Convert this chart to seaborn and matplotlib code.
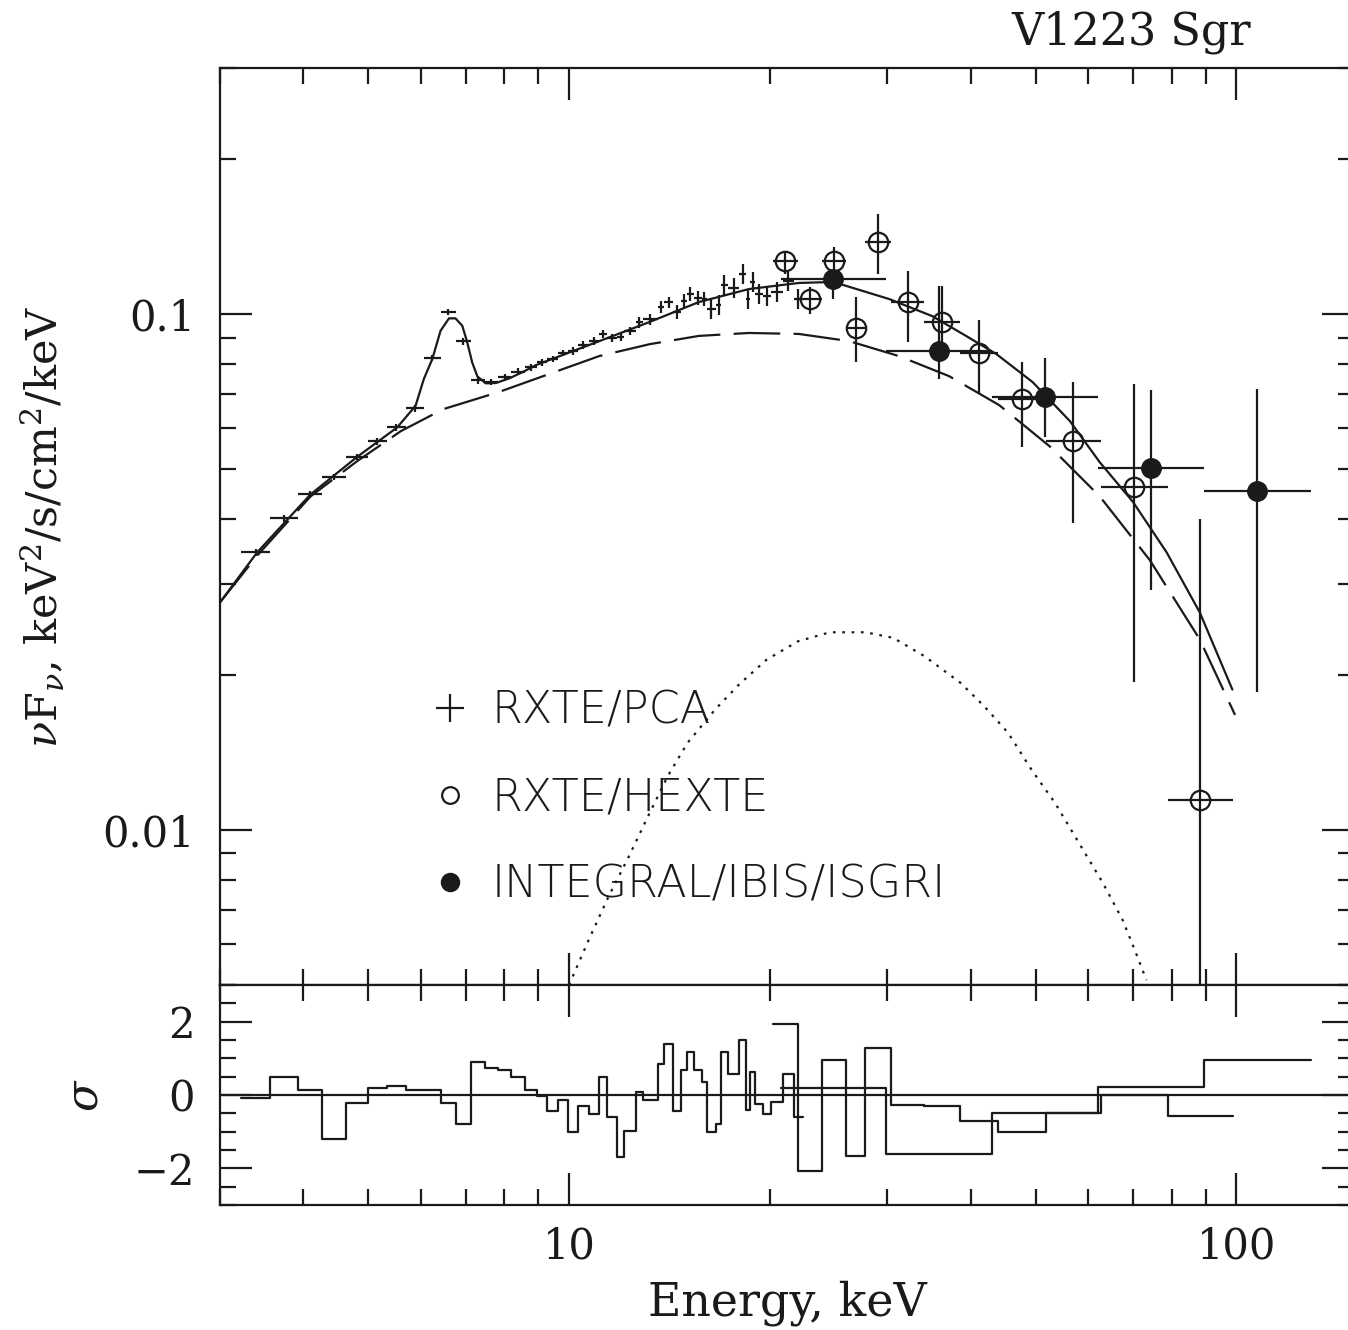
import numpy as np
import pandas as pd
import matplotlib
matplotlib.use('Agg')
import matplotlib.pyplot as plt
import matplotlib.ticker as ticker
from matplotlib.lines import Line2D
import seaborn as sns

# ---- RXTE/PCA: bin edges (keV), nuFnu, relative error (%), residual (sigma)
pca_edges = [3.23, 3.56, 3.92, 4.26, 4.63, 5.00, 5.33, 5.70, 6.06, 6.43,
             6.77, 7.13, 7.48, 7.83, 8.19, 8.59, 8.95, 9.27, 9.63, 9.97,
             10.3, 10.7, 11.1, 11.4, 11.8, 12.1, 12.6, 12.9, 13.6, 13.9,
             14.3, 14.7, 15.0, 15.4, 15.8, 16.1, 16.6, 16.9, 17.3, 18.0,
             18.4, 18.7, 19.0, 19.5, 20.1, 20.9, 21.7, 22.4]
pca_flux = [0.0345, 0.0402, 0.0447, 0.0483, 0.0528, 0.0567, 0.0603, 0.0657, 0.0822, 0.1009,
            0.0886, 0.0744, 0.0738, 0.0755, 0.0773, 0.0789, 0.0806, 0.0818, 0.0840, 0.0848,
            0.0871, 0.0886, 0.0915, 0.0898, 0.0902, 0.0927, 0.0965, 0.0978, 0.1032, 0.1055,
            0.1009, 0.1060, 0.1094, 0.1074, 0.1069, 0.1023, 0.1041, 0.1138, 0.1123, 0.1196,
            0.1069, 0.1154, 0.1094, 0.1085, 0.1103, 0.1161, 0.1069]
pca_err_pct = [1.5, 1.5, 1.5, 1.5, 1.5, 1.5, 1.5, 1.5, 1.5, 1.5,
               1.5, 1.5, 1.5, 1.5, 1.5, 1.5, 1.5, 1.5, 1.5, 1.8,
               1.8, 1.8, 1.8, 1.8, 1.8, 1.8, 2.5, 2.5, 2.5, 2.5,
               3.0, 3.0, 3.0, 3.0, 3.0, 4.5, 4.5, 4.5, 4.5, 4.5,
               4.5, 4.5, 4.5, 4.5, 4.5, 4.5, 4.5]
pca_res = [-0.09, 0.5, 0.14, -1.2, -0.21, 0.18, 0.25, 0.14, 0.14, -0.21,
           -0.8, 0.9, 0.73, 0.68, 0.5, 0.14, -0.02, -0.43, -0.14, -1.02,
           -0.3, -0.53, 0.48, -0.61, -1.7, -0.98, 0.07, -0.14, 0.85, 1.4,
           -0.43, 0.68, 1.17, 0.68, 0.35, -1.02, -0.8, 1.17, 0.57, 1.5,
           -0.41, 0.62, -0.25, -0.53, -0.18, 0.58, -0.59]

# ---- RXTE/HEXTE
hexte_edges = [20.2, 22.0, 23.9, 26.0, 27.8, 30.4, 34.0, 38.5, 43.9, 51.8, 62.7, 78.9, 98.7]
hexte_flux = [0.127, 0.107, 0.127, 0.0938, 0.138, 0.1054, 0.0963, 0.0839, 0.0684, 0.0568, 0.0461, 0.01144]
hexte_lo = [0.1196, 0.100, 0.1186, 0.0807, 0.1196, 0.0881, 0.0882, 0.0699, 0.0553, 0.0393, 0.0193, 0.001]
hexte_hi = [0.132, 0.1127, 0.1349, 0.1079, 0.1563, 0.1214, 0.1135, 0.0975, 0.0808, 0.0739, 0.0731, 0.040]
hexte_res = [1.94, -2.07, 0.95, -1.67, 1.28, -0.26, -0.3, -0.71, -1.02, -0.48, 0.0, -0.58]

# ---- INTEGRAL/IBIS/ISGRI
isgri_edges = [20.8, 29.8, 43.0, 62.1, 89.3, 129.4]
isgri_flux = [0.117, 0.0849, 0.0692, 0.0502, 0.0454]
isgri_lo = [0.107, 0.0748, 0.0578, 0.0292, 0.0185]
isgri_hi = [0.1214, 0.1135, 0.0821, 0.0713, 0.0717]
isgri_res = [0.18, -1.62, -0.48, 0.23, 0.96]

# ---- model components
model_e = [3.0, 3.41, 4.1, 4.81, 5.53, 5.89, 6.06, 6.24, 6.42, 6.61, 6.76, 6.92, 7.04, 7.16,
           7.29, 7.50, 7.77, 8.13, 8.51, 8.92, 11.1, 13.2, 15.65, 18.6, 22.1, 24.9, 30.2,
           35.0, 39.4, 43.7, 49.5, 56.3, 62.4, 70.0, 78.6, 88.1, 98.6]
model_f = [0.0276, 0.0345, 0.0447, 0.0528, 0.0603, 0.0664, 0.0748, 0.0818, 0.0928, 0.0981,
           0.0981, 0.0949, 0.0881, 0.0806, 0.0757, 0.0734, 0.0735, 0.0750, 0.0771, 0.0796,
           0.0886, 0.0965, 0.1055, 0.1118, 0.1149, 0.1154, 0.1069, 0.0991, 0.0906, 0.0836,
           0.0738, 0.0620, 0.0516, 0.0432, 0.0345, 0.0264, 0.0187]
cont_e = [3.0, 3.41, 4.1, 4.81, 5.6, 6.48, 7.85, 9.6, 11.1, 13.2, 15.65, 18.6, 22.1, 26.3,
          31.2, 37.1, 44.1, 52.5, 62.4, 74.2, 88.1, 99.5]
cont_f = [0.0276, 0.0340, 0.0443, 0.0518, 0.0593, 0.0654, 0.0706, 0.0775, 0.0829, 0.0874,
          0.0907, 0.0919, 0.0915, 0.0886, 0.0829, 0.0758, 0.0666, 0.0554, 0.0443, 0.0333,
          0.0234, 0.0167]
refl_e = [10.0, 10.7, 11.46, 12.26, 13.13, 14.05, 15.05, 16.55, 17.97, 19.78, 22.04, 24.6,
          27.8, 30.6, 34.1, 38.6, 41.9, 45.5, 49.3, 53.5, 58.1, 63.1, 67.5, 70.4, 73.3]
refl_f = [0.0050, 0.00611, 0.00742, 0.00881, 0.01061, 0.01269, 0.01474, 0.0171, 0.01912,
          0.02138, 0.0232, 0.02415, 0.02415, 0.02356, 0.0217, 0.01927, 0.01735, 0.01541,
          0.01308, 0.01126, 0.00942, 0.00788, 0.00669, 0.00585, 0.00511]

legend_labels = ['RXTE/PCA', 'RXTE/HEXTE', 'INTEGRAL/IBIS/ISGRI']


def bins(edges):
    e = np.asarray(edges)
    c = np.sqrt(e[:-1] * e[1:])
    return c, np.vstack([c - e[:-1], e[1:] - c])


sns.set_theme(style='white', rc={'axes.edgecolor': 'k', 'text.color': 'k',
                                 'xtick.color': 'k', 'ytick.color': 'k',
                                 'axes.labelcolor': 'k', 'axes.linewidth': 1.5})
plt.rcParams['font.family'] = ['DejaVu Serif']
plt.rcParams['mathtext.fontset'] = 'dejavuserif'

W, H = 1348, 1330
fig = plt.figure(figsize=(W / 100, H / 100), dpi=100)
ax = fig.add_axes([220 / W, 1 - 985 / H, (1354 - 220) / W, (985 - 68) / H])
axr = fig.add_axes([220 / W, 1 - 1205 / H, (1354 - 220) / W, 220 / H], sharex=ax)
ax.set_xscale('log')
ax.set_yscale('log')

lw = 1.6
# data points
c, xe = bins(pca_edges)
f = np.asarray(pca_flux)
ye = f * np.asarray(pca_err_pct) / 100
ax.errorbar(c, f, xerr=xe, yerr=ye, fmt='none', ecolor='k', elinewidth=lw, zorder=3)

c, xe = bins(hexte_edges)
f = np.asarray(hexte_flux)
ye = np.vstack([f - np.asarray(hexte_lo), np.asarray(hexte_hi) - f])
ax.errorbar(c, f, xerr=xe, yerr=ye, fmt='o', ms=14, mfc='none', mec='k', mew=lw,
            ecolor='k', elinewidth=lw, zorder=3)

c, xe = bins(isgri_edges)
f = np.asarray(isgri_flux)
ye = np.vstack([f - np.asarray(isgri_lo), np.asarray(isgri_hi) - f])
ax.errorbar(c, f, xerr=xe, yerr=ye, fmt='o', ms=14, mfc='k', mec='k',
            ecolor='k', elinewidth=lw, zorder=3)

# model curves
sns.lineplot(x=model_e, y=model_f, ax=ax, color='k', lw=lw, estimator=None, sort=False)
sns.lineplot(x=cont_e, y=cont_f, ax=ax, color='k', lw=lw, estimator=None, sort=False,
             linestyle=(0, (21, 6)))
sns.lineplot(x=refl_e, y=refl_f, ax=ax, color='k', lw=lw, estimator=None, sort=False,
             linestyle=(0, (1.2, 3)))

# residuals
for edges, res in [(pca_edges, pca_res), (hexte_edges, hexte_res), (isgri_edges, isgri_res)]:
    sns.lineplot(x=edges, y=list(res) + [res[-1]], ax=axr, color='k', lw=lw,
                 drawstyle='steps-post', estimator=None, sort=False)
axr.axhline(0, color='k', lw=lw)

ax.set_xlim(3, 150)
ax.set_ylim(0.005, 0.3)
axr.set_ylim(-3, 3)

fmt = ticker.FuncFormatter(lambda v, p: f'{v:g}')
ax.xaxis.set_major_locator(ticker.LogLocator(base=10))
ax.xaxis.set_minor_locator(ticker.LogLocator(base=10, subs=np.arange(2, 10)))
ax.xaxis.set_major_formatter(fmt)
ax.xaxis.set_minor_formatter(ticker.NullFormatter())
ax.yaxis.set_major_locator(ticker.LogLocator(base=10))
ax.yaxis.set_minor_locator(ticker.LogLocator(base=10, subs=np.arange(2, 10)))
ax.yaxis.set_major_formatter(fmt)
ax.yaxis.set_minor_formatter(ticker.NullFormatter())
axr.yaxis.set_major_locator(ticker.MultipleLocator(2))
axr.yaxis.set_minor_locator(ticker.MultipleLocator(0.5))

for a in (ax, axr):
    a.tick_params(which='both', direction='in', top=True, bottom=True, left=True,
                  right=True, width=lw, color='k', labelsize=30)
    a.tick_params(which='major', length=23)
    a.tick_params(which='minor', length=11.5)
    a.tick_params(axis='y', pad=18)
    a.tick_params(axis='x', pad=15)
    for s in a.spines.values():
        s.set_linewidth(lw)
        s.set_color('k')
ax.tick_params(labelbottom=False)

ax.set_ylabel(r'$\nu$F$_\nu$, keV$^2$/s/cm$^2$/keV', fontsize=31)
ax.yaxis.set_label_coords(-0.135, 0.5)
axr.set_ylabel(r'$\sigma$', fontsize=32)
axr.yaxis.set_label_coords(-0.10, 0.5)
axr.set_xlabel('Energy, keV', fontsize=33)
axr.xaxis.set_label_coords(0.5, -0.34)

fig.text(1251 / W, 1 - 44 / H, 'V1223 Sgr', ha='right', va='baseline', fontsize=32)

handles = [Line2D([], [], ls='none', marker='+', ms=20, mew=lw, color='k'),
           Line2D([], [], ls='none', marker='o', ms=12, mew=lw, mfc='none', mec='k'),
           Line2D([], [], ls='none', marker='o', ms=13, mfc='k', mec='k')]
ax.legend(handles, legend_labels, loc='upper left', bbox_to_anchor=(0.183, 0.322),
          frameon=False, borderpad=0, borderaxespad=0, handlelength=1.0,
          handletextpad=0.45, labelspacing=0.99,
          prop={'family': 'DejaVu Sans', 'size': 32, 'weight': 'ultralight'})

fig.savefig('out.png', dpi=100)
